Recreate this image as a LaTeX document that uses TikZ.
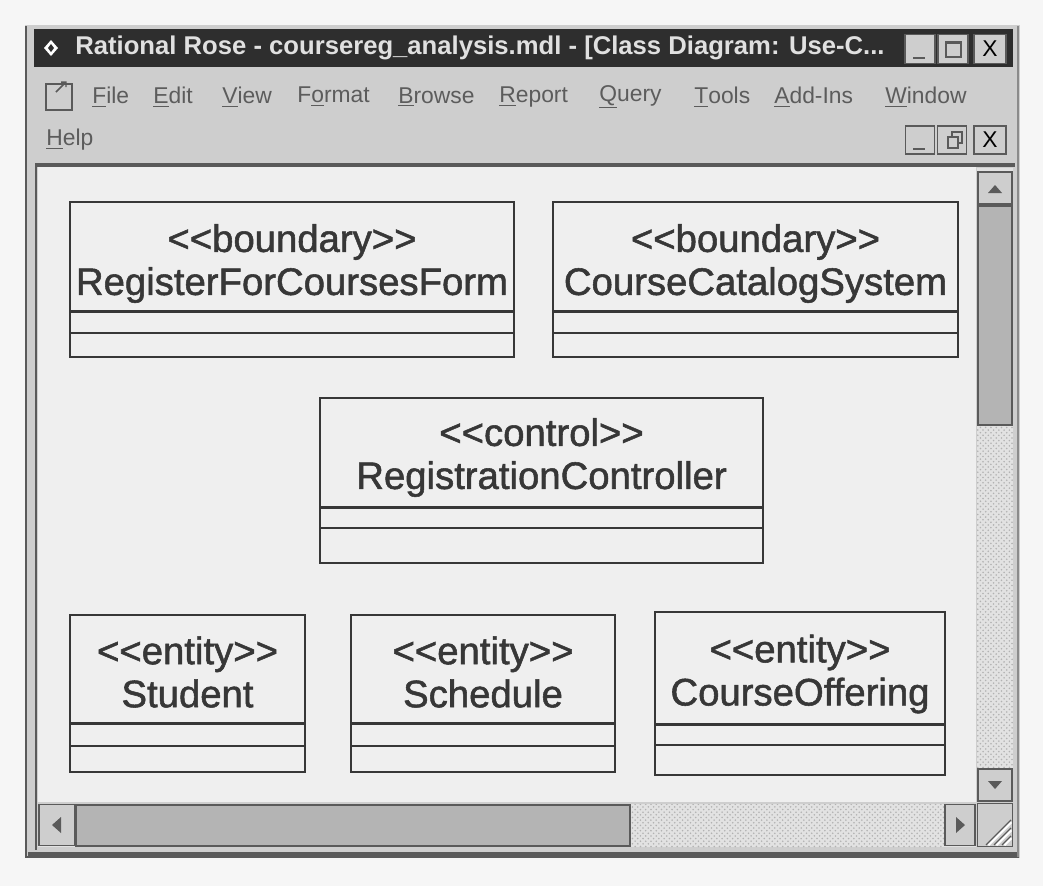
\documentclass[tikz,border=0pt]{standalone}
\usepackage{fontspec}
\setmainfont{Liberation Sans}[Ligatures=TeXOff]
\newfontfamily\classfont{Liberation Sans}[Ligatures=TeXOff, FakeBold=1.4]
\usetikzlibrary{patterns}

\definecolor{pagebg}{RGB}{246,246,246}
\definecolor{chrome}{RGB}{206,206,206}
\definecolor{chromedark}{RGB}{90,90,90}
\definecolor{titlebar}{RGB}{46,46,46}
\definecolor{canvasbg}{RGB}{239,239,239}
\definecolor{ink}{RGB}{55,55,55}
\definecolor{menuink}{RGB}{92,92,92}
\definecolor{thumbgray}{RGB}{180,180,180}
\definecolor{trackgray}{RGB}{226,226,226}

\tikzset{
  classline/.style={draw=ink, line width=1.25pt},
  sepline/.style={draw=ink, line width=1.7pt},
  classtext/.style={text=ink, align=center, inner sep=0pt,
    font=\classfont\fontsize{21.8}{24.5}\selectfont},
  menuitem/.style={text=menuink, anchor=west, inner sep=0pt,
    font=\fontsize{13}{14}\selectfont},
  winbtn/.style={fill=chrome, draw=chromedark, line width=0.85pt},
  scrollbtn/.style={fill=chrome, draw=chromedark, line width=0.85pt},
  arrowglyph/.style={fill=chromedark, draw=none},
}

% one UML class: name, x1, y1, x2, y2, first separator, second separator, label, text shift
\newcommand{\umlclass}[9]{%
  \fill[canvasbg] (#2,#3) rectangle (#4,#5);
  \draw[sepline] (#2,#6) -- (#4,#6);
  \draw[classline] (#2,#7) -- (#4,#7);
  \draw[classline] (#2,#3) rectangle (#4,#5);
  \node[classtext] (#1) at ({(#2+#4)/2},{(#3+#6)/2+#9}) {#8};
}

\begin{document}
\begin{tikzpicture}[x=0.02cm,y=-0.02cm]
  \useasboundingbox (0,0) rectangle (1043,886);
  \fill[pagebg] (0,0) rectangle (1043,886);

  % window frame
  \fill[chrome] (25,25) rectangle (1020,858);
  \draw[chromedark, line width=1.13pt] (26,26) -- (26,857) -- (1019,857);
  \draw[chromedark, line width=2.27pt] (28,854) -- (1018,854);
  \draw[chromedark!70, line width=1.13pt] (1018,26) -- (1018,857);

  % title bar
  \fill[titlebar] (34,29) rectangle (1013,67);
  \fill[white] (44,48) -- (51,40) -- (58,48) -- (51,56) -- cycle;
  \fill[titlebar] (48,48) -- (51,44) -- (54,48) -- (51,52) -- cycle;
  \node[text=white!88!black, anchor=west, inner sep=0pt,
        font=\bfseries\fontsize{14.6}{16}\selectfont] (title) at (75,48)
        {Rational Rose - coursereg\_analysis.mdl - [Class Diagram: Use-C...};
  \fill[titlebar] (900,29) rectangle (1013,67);
  \node[winbtn, minimum width=0.6cm, minimum height=0.58cm, inner sep=0pt] (tmin) at (920,49) {};
  \node[winbtn, minimum width=0.6cm, minimum height=0.58cm, inner sep=0pt] (tmax) at (953,49) {};
  \node[winbtn, minimum width=0.64cm, minimum height=0.58cm, inner sep=0pt,
        font=\fontsize{13}{14}\selectfont] (tclose) at (990,49) {X};
  \draw[chromedark, line width=1.42pt] (913,58) -- (925,58);
  \draw[chromedark, line width=0.85pt] (946,42) rectangle (961,57);
  \draw[chromedark, line width=1.7pt] (946,43) -- (961,43);

  % menu bar
  \draw[chromedark, line width=0.85pt] (46,84) rectangle (72,110);
  \draw[chromedark, line width=0.85pt] (56,92) -- (66,82) (61,82) -- (66,82) -- (66,87);
  \node[menuitem] (mfile)   at (92,97)  {\underline{F}ile};
  \node[menuitem] (medit)   at (153,97) {\underline{E}dit};
  \node[menuitem] (mview)   at (222,97) {\underline{V}iew};
  \node[menuitem] (mformat) at (297,97) {F\underline{o}rmat};
  \node[menuitem] (mbrowse) at (398,97) {\underline{B}rowse};
  \node[menuitem] (mreport) at (499,97) {\underline{R}eport};
  \node[menuitem] (mquery)  at (599,97) {\underline{Q}uery};
  \node[menuitem] (mtools)  at (694,97) {\underline{T}ools};
  \node[menuitem] (maddins) at (774,97) {\underline{A}dd-Ins};
  \node[menuitem] (mwindow) at (885,97) {\underline{W}indow};
  \node[menuitem] (mhelp)   at (46,140) {\underline{H}elp};

  % document window buttons
  \node[winbtn, minimum width=0.58cm, minimum height=0.56cm, inner sep=0pt] (dmin) at (920,140) {};
  \node[winbtn, minimum width=0.58cm, minimum height=0.56cm, inner sep=0pt] (drest) at (952,140) {};
  \node[winbtn, minimum width=0.64cm, minimum height=0.56cm, inner sep=0pt,
        font=\fontsize{13}{14}\selectfont] (dclose) at (990,140) {X};
  \draw[chromedark, line width=1.42pt] (913,149) -- (925,149);
  \draw[chromedark, line width=0.74pt] (948,137) rectangle (958,148);
  \draw[chromedark, line width=0.74pt] (952,137) -- (952,132) -- (962,132) -- (962,143) -- (958,143);

  % client area
  \draw[chromedark, line width=2.27pt] (35,165) -- (1015,165);
  \draw[chromedark, line width=1.7pt] (36,165) -- (36,850);
  \fill[canvasbg] (38,167) rectangle (976,802);

  % vertical scroll bar
  \fill[trackgray] (977,168) rectangle (1013,802);
  \fill[pattern=crosshatch dots, pattern color=gray!60] (977,425) rectangle (1013,768);
  \node[scrollbtn, minimum width=0.68cm, minimum height=0.64cm, inner sep=0pt] (vup) at (995,188) {};
  \fill[arrowglyph] (988,193) -- (1002,193) -- (995,185) -- cycle;
  \draw[fill=thumbgray, draw=chromedark, line width=0.85pt] (978,206) rectangle (1012,425);
  \node[scrollbtn, minimum width=0.68cm, minimum height=0.64cm, inner sep=0pt] (vdown) at (995,785) {};
  \fill[arrowglyph] (988,781) -- (1002,781) -- (995,789) -- cycle;

  % horizontal scroll bar
  \fill[trackgray] (38,804) rectangle (976,847);
  \fill[pattern=crosshatch dots, pattern color=gray!60] (630,804) rectangle (945,847);
  \node[scrollbtn, minimum width=0.72cm, minimum height=0.82cm, inner sep=0pt] (hleft) at (57,825) {};
  \fill[arrowglyph] (52,825) -- (61,817) -- (61,833) -- cycle;
  \draw[fill=thumbgray, draw=chromedark, line width=0.85pt] (76,805) rectangle (630,846);
  \node[scrollbtn, minimum width=0.6cm, minimum height=0.82cm, inner sep=0pt] (hright) at (960,825) {};
  \fill[arrowglyph] (965,825) -- (956,817) -- (956,833) -- cycle;
  \node[scrollbtn, minimum width=0.7cm, minimum height=0.86cm, inner sep=0pt] (grip) at (995,825) {};
  \draw[white, line width=1.7pt] (988,845) -- (1011,822) (996,845) -- (1011,830) (1004,845) -- (1011,838);
  \draw[chromedark, line width=0.68pt] (986,845) -- (1011,820) (994,845) -- (1011,828) (1002,845) -- (1011,836);

  % classes
  \umlclass{rfcf}{70}{202}{514}{357}{311}{333}{<<boundary>>\\RegisterForCoursesForm}{7}
  \umlclass{ccs}{553}{202}{958}{357}{311}{333}{<<boundary>>\\CourseCatalogSystem}{7}
  \umlclass{rc}{320}{398}{763}{563}{507}{528}{<<control>>\\RegistrationController}{5}
  \umlclass{student}{70}{615}{305}{772}{723}{746}{<<entity>>\\Student}{3}
  \umlclass{schedule}{351}{615}{615}{772}{723}{746}{<<entity>>\\Schedule}{3}
  \umlclass{offering}{655}{612}{945}{775}{724}{745}{<<entity>>\\CourseOffering}{6}
\end{tikzpicture}
\end{document}
